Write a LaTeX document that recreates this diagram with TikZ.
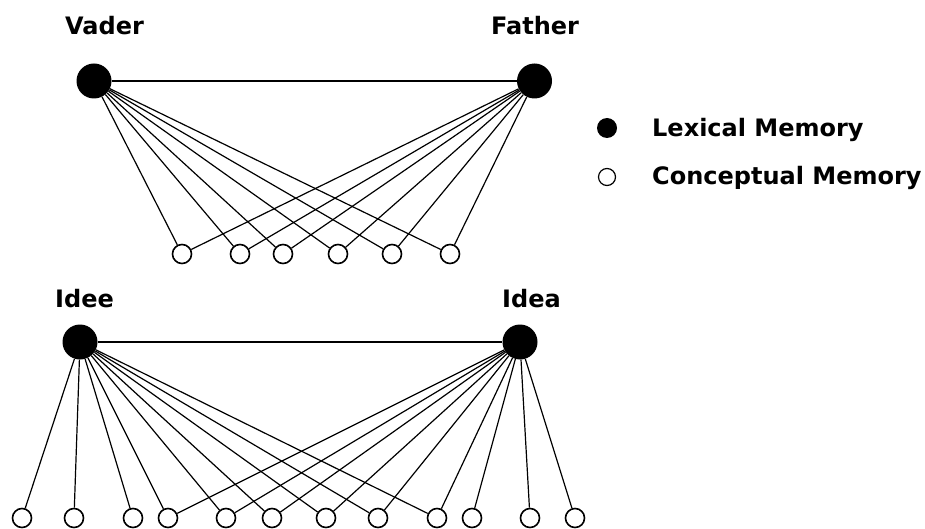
\documentclass[tikz,border=0pt]{standalone}
\usepackage{fontspec}
\setmainfont{DejaVu Sans}
\begin{document}
\begin{tikzpicture}[x=1pt,y=-1pt,
  lex/.style={circle,fill=black,inner sep=0pt,minimum size=35pt},
  con/.style={circle,draw=black,line width=1.6pt,fill=white,inner sep=0pt,minimum size=19pt},
  lbl/.style={font=\bfseries\fontsize{24}{24}\selectfont,anchor=base,inner sep=0pt},
  link/.style={line width=1.2pt},
  bar/.style={line width=2pt}]
\useasboundingbox (0,0) rectangle (925,529);
% ---------- top network ----------
\node[lex] (vader) at (94,81) {};
\node[lex] (father) at (534.5,81) {};
\node[lbl] (vaderlbl) at (104.5,35) {Vader};
\node[lbl] (fatherlbl) at (535,35) {Father};
\foreach \x [count=\i] in {182,240,283,338,392,450}
  \node[con] (t\i) at (\x,254) {};
\draw[bar] (vader) -- (father);
\foreach \i in {1,...,6} {
  \draw[link] (vader) -- (t\i);
  \draw[link] (father) -- (t\i);
}
% ---------- bottom network ----------
\node[lex] (idee) at (80,342) {};
\node[lex] (idea) at (520,342) {};
\node[lbl] (ideelbl) at (84.5,307) {Idee};
\node[lbl] (idealbl) at (531.5,307) {Idea};
\foreach \x [count=\i] in {22,74,133,168,226,272,326,378,437,472,530,575}
  \node[con] (b\i) at (\x,518) {};
\draw[bar] (idee) -- (idea);
\foreach \i in {1,...,9} \draw[link] (idee) -- (b\i);
\foreach \i in {4,...,12} \draw[link] (idea) -- (b\i);
% ---------- legend ----------
\node[lex,minimum size=20pt] (lexkey) at (607,128) {};
\node[con,minimum size=17pt,line width=1.2pt] (conkey) at (607,177) {};
\node[lbl,anchor=base west] (lextext) at (652,137) {Lexical Memory};
\node[lbl,anchor=base west] (context) at (652,185) {Conceptual Memory};
\end{tikzpicture}
\end{document}
